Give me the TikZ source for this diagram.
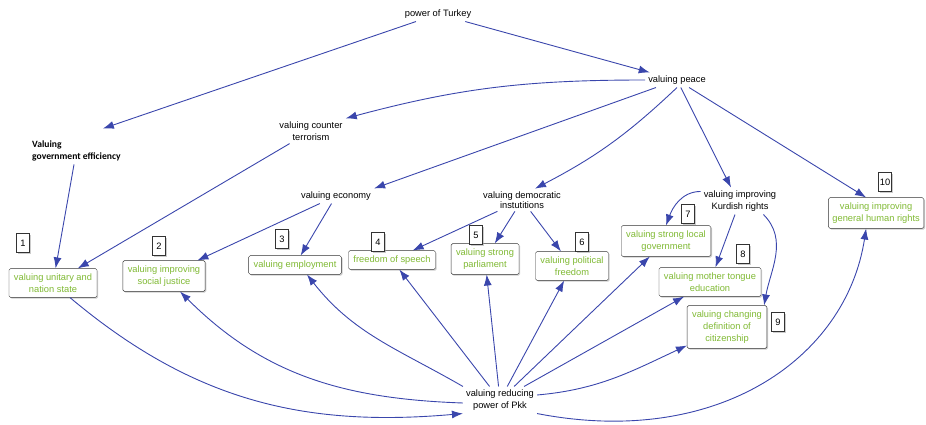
\documentclass[tikz,border=0pt]{standalone}
\usepackage{fontspec}
\setmainfont{Liberation Sans}
\newfontfamily\labelfont{Carlito}
\usetikzlibrary{arrows.meta}
\usetikzlibrary{shadows}

\definecolor{linkblue}{RGB}{58,70,172}
\definecolor{valuegreen}{RGB}{128,186,52}

\begin{document}
\begin{tikzpicture}[x=1pt, y=1pt,
    every node/.style={font=\fontsize{9.3}{12}\selectfont},
    concept/.style={align=center, inner sep=3pt},
    valuebox/.style={rectangle, draw=black!80, rounded corners=1.5pt, fill=white, text=valuegreen,
      align=center, inner xsep=5pt, inner ysep=5pt,
      drop shadow={shadow xshift=1.2pt, shadow yshift=-1.2pt, fill=black!40}},
    tag/.style={rectangle, draw=black!80, fill=white, minimum width=13pt, minimum height=19pt, inner sep=1pt,
      drop shadow={shadow xshift=1pt, shadow yshift=-1pt, fill=black!40}},
    link/.style={draw=linkblue, line width=0.9pt, -{Latex[length=11pt,width=8pt]}}
  ]

    \useasboundingbox (0,0) rectangle (926,-425);
    \clip (0,0) rectangle (926,-425);

    % Nodes
    \node[concept] (turkey) at (438,-14) {power of Turkey};
    \node[concept] (peace) at (677,-80) {valuing peace};
    \node[concept] (counter) at (311,-131) {valuing counter\\terrorism};
    \node[concept, align=left, anchor=west, font=\labelfont\bfseries\fontsize{9.6}{12}\selectfont] (goveff) at (29,-151) {Valuing\\government efficiency};
    \node[concept] (economy) at (336,-196) {valuing economy};
    \node[concept, font=\fontsize{9.3}{9.5}\selectfont] (democratic) at (522,-200) {valuing democratic\\instutitions};
    \node[concept] (kurdish) at (740,-201) {valuing improving\\Kurdish rights};
    \node[concept] (pkk) at (500,-400) {valuing reducing\\power of Pkk};

    % Value boxes
    \node[valuebox] (box1) at (53,-283) {valuing unitary and\\nation state};
    \node[valuebox] (box2) at (164,-276) {valuing improving\\social justice};
    \node[valuebox] (box3) at (295,-265) {valuing employment};
    \node[valuebox] (box4) at (392,-260) {freedom of speech};
    \node[valuebox] (box5) at (485,-259) {valuing strong\\parliament};
    \node[valuebox] (box6) at (572,-266) {valuing political\\freedom};
    \node[valuebox] (box7) at (666,-241) {valuing strong local\\government};
    \node[valuebox] (box8) at (710,-282) {valuing mother tongue\\education};
    \node[valuebox] (box9) at (727,-327) {valuing changing\\definition of\\citizenship};
    \node[valuebox, anchor=east, inner xsep=4pt] (box10) at (924,-213) {valuing improving\\general human rights};

    % Number tags
    \node[tag] (tag1) at (23,-243) {1};
    \node[tag] (tag2) at (159,-246) {2};
    \node[tag] (tag3) at (282,-239) {3};
    \node[tag] (tag4) at (378,-242) {4};
    \node[tag] (tag5) at (476,-235) {5};
    \node[tag] (tag6) at (582,-242) {6};
    \node[tag] (tag7) at (688,-214) {7};
    \node[tag] (tag8) at (743,-254) {8};
    \node[tag] (tag9) at (778,-322) {9};
    \node[tag] (tag10) at (885,-182) {10};

    % Links from the top
    \draw[link] (turkey) -- (peace);
    \draw[link, shorten >=28pt] (turkey) -- (goveff.north);
    \draw[link] (peace.west) to[out=180, in=15] (counter.north east);
    \draw[link] (peace) -- (economy.north east);
    \draw[link] (peace.south) to[bend left=8] ([xshift=13pt]democratic.north);
    \draw[link] (peace) -- ([xshift=-9pt]kurdish.north);
    \draw[link] (peace) -- ([xshift=-10pt]box10.north);

    % Links to the value boxes
    \draw[link] (goveff) -- (box1);
    \draw[link] (counter) -- (box1);
    \draw[link] (economy) -- (box2);
    \draw[link] (economy) -- (box3);
    \draw[link] (democratic) -- (box4);
    \draw[link] (democratic) -- (box5);
    \draw[link] (democratic) -- (box6);
    \draw[link] ([yshift=-4pt]kurdish.north west) to[out=180, in=70] (box7.north);
    \draw[link] (kurdish) -- (box8);
    \draw[link] (kurdish.-30) to[out=-45, in=80] ([xshift=-3pt]box9.north east);

    % Links around Pkk
    \draw[link] ([xshift=17pt]box1.south) to[out=-40, in=185] (pkk.south west);
    \draw[link] ([yshift=-3pt]pkk.west) to[out=178, in=-45] ([xshift=16pt]box2.south);
    \draw[link] (pkk.north west) to[out=150, in=-52] ([xshift=12pt]box3.south);
    \draw[link] (pkk) -- (box4);
    \draw[link] (pkk) -- (box5);
    \draw[link] (pkk) -- (box6);
    \draw[link] (pkk) -- (box7);
    \draw[link] (pkk) -- (box8);
    \draw[link] ([yshift=5pt]pkk.east) to[out=5, in=205] ([yshift=3pt]box9.south west);
    \draw[link] (pkk.south east) .. controls +(180,-35) and +(-20,-130) .. ([xshift=-10pt]box10.south);

  \end{tikzpicture}
\end{document}
